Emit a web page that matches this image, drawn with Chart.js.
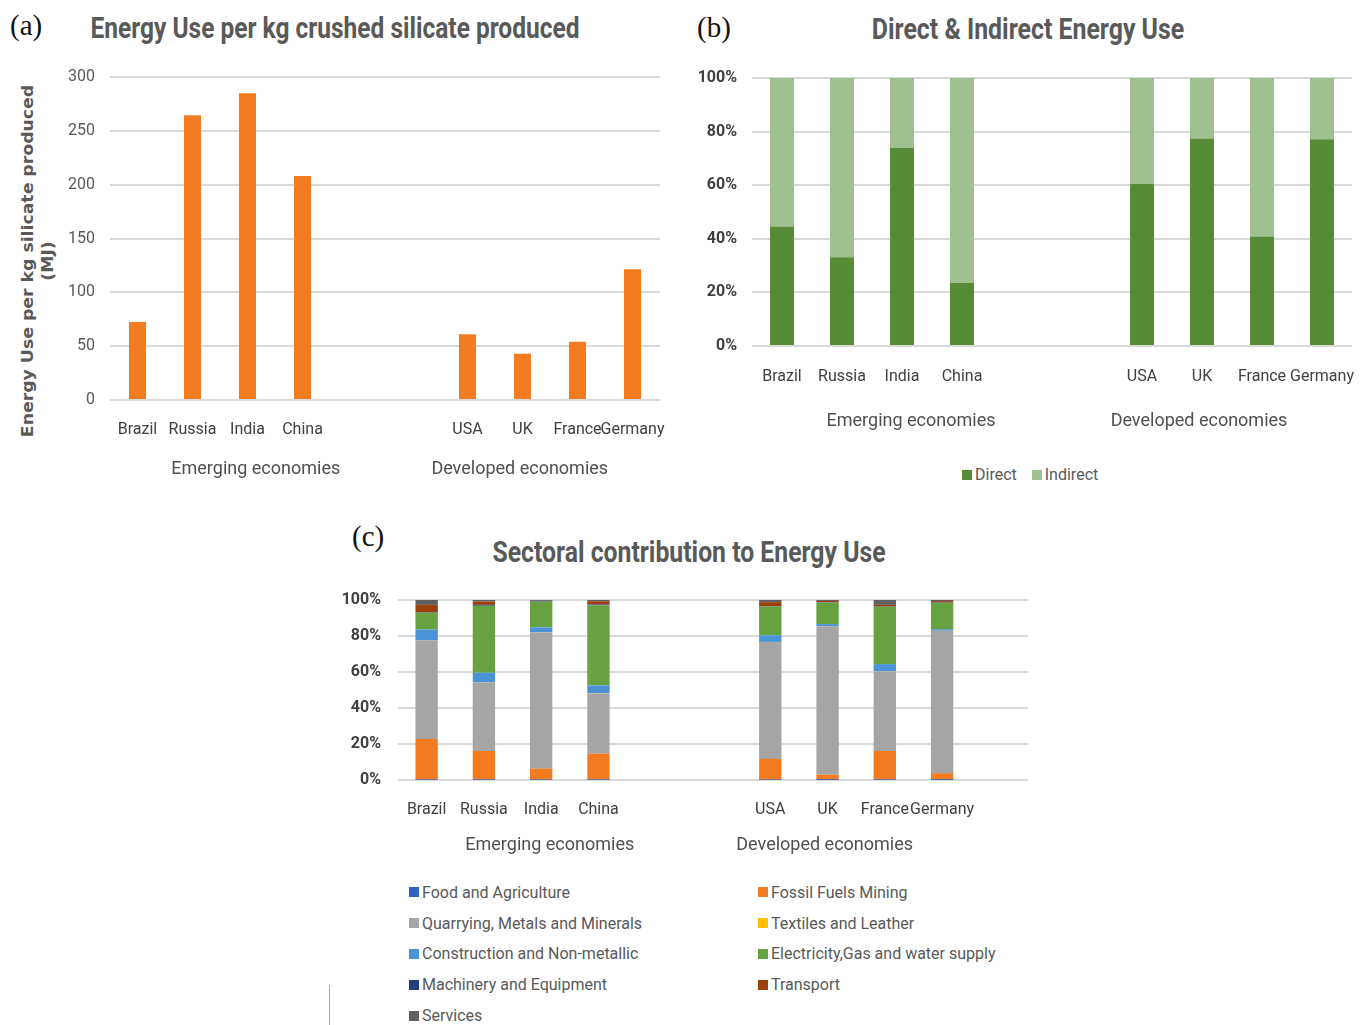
<!DOCTYPE html>
<html>
<head>
<meta charset="utf-8">
<script src="https://cdn.jsdelivr.net/npm/chart.js@4.4.1/dist/chart.umd.min.js"></script>
<style>
  body { margin:0; width:1368px; height:1025px; background:#fff; position:relative; overflow:hidden; }
  .abs { position:absolute; }
  .letter { position:absolute; font-family:'Liberation Serif','DejaVu Serif',serif; font-size:29px; color:#111; }
  .title { position:absolute; white-space:nowrap; font-family:Roboto,sans-serif; font-weight:bold; font-size:29px; color:#595959; }
  .ytitle { position:absolute; white-space:nowrap; text-align:center;
            font-family:'DejaVu Sans',sans-serif; font-weight:bold; font-size:16px; line-height:20px; color:#595959; }
  .legend { position:absolute; font-family:Roboto,sans-serif; font-size:16px; color:#595959; }
  .legend .item { display:flex; align-items:center; white-space:nowrap; }
  .legend .sw { width:10px; height:10px; margin-right:3px; flex:none; }
</style>
</head>
<body>
<div class="letter" style="left:10px;top:9px">(a)</div>
<div class="letter" style="left:697px;top:11px">(b)</div>
<div class="letter" style="left:352px;top:520px">(c)</div>

<div class="title" data-w="489" style="left:335px;top:28px">Energy Use per kg crushed silicate produced</div>
<div class="title" data-w="312" style="left:1028px;top:29px">Direct &amp; Indirect Energy Use</div>
<div class="title" data-w="393" style="left:689px;top:552px">Sectoral contribution to Energy Use</div>

<div class="ytitle" data-w="352" data-rot="1" style="left:38px;top:261px">Energy Use per kg silicate produced<br>(MJ)</div>

<div class="abs" style="left:0;top:60px;width:680px;height:430px"><canvas id="chartA"></canvas></div>
<div class="abs" style="left:690px;top:60px;width:678px;height:370px"><canvas id="chartB"></canvas></div>
<div class="abs" style="left:330px;top:585px;width:710px;height:275px"><canvas id="chartC"></canvas></div>

<div class="legend" id="legendB" style="left:962px;top:465px;display:flex;gap:15px"></div>
<div class="legend" id="legendC" style="left:409px;top:877px;display:grid;grid-template-columns:349px auto;grid-auto-rows:30.8px"></div>

<div class="abs" style="left:329px;top:985px;width:1px;height:40px;background:#aaa"></div>

<script>
const FONT = "Roboto, 'Open Sans', sans-serif";

// categories (two blank slots separate the groups)
const countries = ['Brazil', 'Russia', 'India', 'China', '', '', 'USA', 'UK', 'France', 'Germany'];
const groups = ['Emerging economies', 'Developed economies'];
const groupAt = [2.15, 6.95];

// (a) MJ per kg crushed silicate
const energyUse = [72.5, 264.5, 285, 208, null, null, 61, 43, 54, 121.5];

// (b) share of direct / indirect energy, %
const directShare   = [44.6, 33.1, 73.9, 23.6, null, null, 60.5, 77.4, 40.9, 77.1];
const indirectShare = [55.4, 66.9, 26.1, 76.4, null, null, 39.5, 22.6, 59.1, 22.9];

// (c) sector shares, % (one extra empty slot at the end)
const sectorNames = ['Food and Agriculture', 'Fossil Fuels Mining', 'Quarrying, Metals and Minerals', 'Textiles and Leather',
  'Construction and Non-metallic', 'Electricity,Gas and water supply', 'Machinery and Equipment', 'Transport', 'Services'];
const sectorColors = ['#2E63C0', '#F47C20', '#A5A5A5', '#FFC000', '#4A93D6', '#66A23F', '#23407A', '#9B3F0C', '#5F5F5F'];
const foodAgri     = [0.2, 0.2, 0.2, 0.2, null, null, 0.2, 0.1, 0.2, 0.1, null];
const fossilFuels  = [22.6, 15.9, 6.1, 14.4, null, null, 11.5, 2.8, 15.9, 3.7, null];
const quarrying    = [54.8, 38.0, 75.8, 33.5, null, null, 64.9, 82.5, 44.1, 79.0, null];
const textiles     = [0.1, 0.1, 0.1, 0.1, null, null, 0.1, 0.1, 0.1, 0.1, null];
const construction = [5.9, 5.4, 2.6, 4.4, null, null, 3.7, 1.1, 4.1, 0.9, null];
const electricity  = [9.3, 37.2, 14.3, 44.4, null, null, 15.9, 11.9, 31.8, 14.6, null];
const machinery    = [0.2, 0.5, 0.4, 0.5, null, null, 0.2, 0.2, 0.2, 0.2, null];
const transport    = [4.2, 1.8, 0.1, 1.8, null, null, 2.3, 0.8, 0.9, 0.8, null];
const services     = [2.7, 0.9, 0.4, 0.7, null, null, 1.2, 0.5, 2.7, 0.6, null];
const sectorData = [foodAgri, fossilFuels, quarrying, textiles, construction, electricity, machinery, transport, services];

Chart.defaults.font.family = FONT;
Chart.defaults.animation = false;

// second row of category labels, placed with the x scale
const groupLabelPlugin = {
  id: 'groupLabels',
  afterDraw(chart, args, opts) {
    const x = chart.scales.x, ctx = chart.ctx;
    ctx.save();
    ctx.font = opts.font;
    ctx.fillStyle = '#505050';
    ctx.textAlign = 'center';
    ctx.textBaseline = 'middle';
    groups.forEach((g, i) => ctx.fillText(g, x.getPixelForValue(groupAt[i]), x.top + opts.offset));
    ctx.restore();
  }
};

function baseOptions(padTop, padRight, yWidth, xHeight, labelPad, groupOffset) {
  return {
    responsive: true,
    maintainAspectRatio: false,
    layout: { padding: { top: padTop, right: padRight, left: 0, bottom: 0 } },
    plugins: {
      legend: { display: false },
      tooltip: { enabled: false },
      groupLabels: { font: '18px ' + FONT, offset: groupOffset }
    },
    scales: {
      x: {
        stacked: true,
        grid: { display: false, drawTicks: false },
        border: { display: false },
        ticks: { padding: labelPad, color: '#404040', font: { size: 16 }, autoSkip: false, maxRotation: 0, minRotation: 0 },
        afterFit: s => { s.height = xHeight; s.paddingLeft = 0; s.paddingRight = 0; }
      },
      y: {
        stacked: true,
        grid: { color: '#D9D9D9', lineWidth: 2, drawTicks: false },
        border: { display: false },
        ticks: { padding: 15, color: '#404040', font: { size: 16, weight: 'bold' } },
        afterFit: s => { s.width = yWidth; s.paddingTop = 0; s.paddingBottom = 0; }
      }
    }
  };
}

// (a)
const optA = baseOptions(17, 20, 110, 90, 20, 69);
optA.scales.y.min = 0;
optA.scales.y.max = 300;
optA.scales.y.ticks.stepSize = 50;
optA.scales.y.ticks.color = '#595959';
optA.scales.y.ticks.font = { size: 16 };
new Chart(document.getElementById('chartA'), {
  type: 'bar',
  data: { labels: countries, datasets: [{ data: energyUse, backgroundColor: '#F47C20', categoryPercentage: 1, barPercentage: 0.31 }] },
  options: optA,
  plugins: [groupLabelPlugin]
});

// (b)
const optB = baseOptions(18, 16, 62, 84, 21, 75);
optB.scales.y.min = 0;
optB.scales.y.max = 100;
optB.scales.y.ticks.stepSize = 20;
optB.scales.y.ticks.callback = v => v + '%';
new Chart(document.getElementById('chartB'), {
  type: 'bar',
  data: {
    labels: countries,
    datasets: [
      { label: 'Direct', data: directShare, backgroundColor: '#568C36', categoryPercentage: 1, barPercentage: 0.4 },
      { label: 'Indirect', data: indirectShare, backgroundColor: '#9EBF8E', categoryPercentage: 1, barPercentage: 0.4 }
    ]
  },
  options: optB,
  plugins: [groupLabelPlugin]
});

// (c)
const optC = baseOptions(15, 12, 68, 80, 20, 65);
optC.scales.y.min = 0;
optC.scales.y.max = 100;
optC.scales.y.ticks.stepSize = 20;
optC.scales.y.ticks.padding = 17;
optC.scales.y.ticks.callback = v => v + '%';
new Chart(document.getElementById('chartC'), {
  type: 'bar',
  data: {
    labels: countries.concat(['']),
    datasets: sectorNames.map((name, i) => ({
      label: name, data: sectorData[i], backgroundColor: sectorColors[i], categoryPercentage: 1, barPercentage: 0.39
    }))
  },
  options: optC,
  plugins: [groupLabelPlugin]
});

// legends
function legendItem(name, color) {
  return '<div class="item"><span class="sw" style="background:' + color + '"></span>' + name + '</div>';
}
document.getElementById('legendB').innerHTML = legendItem('Direct', '#568C36') + legendItem('Indirect', '#9EBF8E');
document.getElementById('legendC').innerHTML = sectorNames.map((n, i) => legendItem(n, sectorColors[i])).join('');

// squeeze the titles to the width they have in the figure
document.querySelectorAll('[data-w]').forEach(el => {
  const k = (+el.dataset.w / el.offsetWidth).toFixed(3);
  el.style.transform = 'translate(-50%,-50%)' + (el.dataset.rot ? ' rotate(-90deg)' : '') + ' scaleX(' + k + ')';
});
</script>
</body>
</html>
